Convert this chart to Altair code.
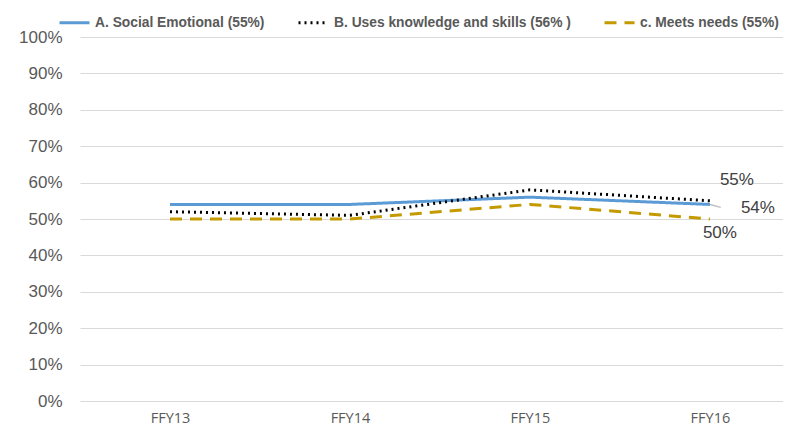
import altair as alt
import pandas as pd

years = ["FFY13", "FFY14", "FFY15", "FFY16"]
series_names = ["A. Social Emotional (55%)", "B. Uses knowledge and skills (56% )", "c. Meets needs (55%)"]
social = [0.54, 0.54, 0.56, 0.54]
knowledge = [0.52, 0.51, 0.58, 0.55]
needs = [0.50, 0.50, 0.54, 0.50]
y_ticks = [0, 0.1, 0.2, 0.3, 0.4, 0.5, 0.6, 0.7, 0.8, 0.9, 1.0]

rows = []
for name, vals in zip(series_names, [social, knowledge, needs]):
    for i, (yr, v) in enumerate(zip(years, vals)):
        rows.append({"idx": i, "year": yr, "series": name, "value": v})
df = pd.DataFrame(rows)

colors = ["#5B9BD5", "#000000", "#C49A00"]
dashes = [[1, 0], [2, 4], [12, 8]]

xscale = alt.Scale(domain=[-0.5, 3.406], nice=False, zero=False)
yscale = alt.Scale(domain=[0, 1], nice=False)

label_expr = "datum.value == 0 ? 'FFY13' : datum.value == 1 ? 'FFY14' : datum.value == 2 ? 'FFY15' : 'FFY16'"

x_axis = alt.Axis(values=[0, 1, 2, 3], labelExpr=label_expr, title=None, grid=False,
                  domain=False, ticks=False, labelFont="Open Sans", labelFontSize=14.5,
                  labelColor="#595959", labelPadding=10, labelOverlap=False)
y_axis = alt.Axis(values=y_ticks, format=".0%", title=None, grid=True, gridColor="#D9D9D9",
                  domain=False, ticks=False, labelFont="Liberation Sans", labelFontSize=17,
                  labelColor="#595959", labelPadding=18, labelOverlap=False)

legend_kw = dict(title=None, orient="none", legendX=-22, legendY=-31,
                 direction="horizontal", symbolType="stroke",
                 symbolStrokeWidth=3, symbolSize=900,
                 labelFont="Liberation Sans", labelFontWeight="bold",
                 labelFontSize=13.8, labelColor="#595959", columnPadding=27,
                 labelLimit=400)

base = alt.Chart(df)
X = alt.X("idx:Q", scale=xscale, axis=x_axis)
Y = alt.Y("value:Q", scale=yscale, axis=y_axis)

lines = base.mark_line(strokeWidth=3).encode(
    x=X, y=Y,
    color=alt.Color("series:N", scale=alt.Scale(domain=series_names, range=colors),
                    legend=alt.Legend(**legend_kw)),
    strokeDash=alt.StrokeDash("series:N", scale=alt.Scale(domain=series_names, range=dashes),
                              legend=alt.Legend(**legend_kw)),
)

last = base.transform_filter(alt.datum.idx == 3)

def label(series_name, dx, dy):
    return last.transform_filter(alt.datum.series == series_name).mark_text(
        font="Liberation Sans", fontSize=17, color="#404040", dx=dx, dy=dy
    ).encode(x=X, y=Y, text=alt.Text("value:Q", format=".0%"))

leader = last.transform_filter(alt.datum.series == series_names[0]).transform_calculate(
    x2v="datum.idx + 0.06", y2v="datum.value - 0.008"
).mark_rule(color="#BFBFBF", strokeWidth=1.5).encode(
    x=X, y=Y, x2=alt.X2("x2v:Q"), y2=alt.Y2("y2v:Q"))

chart = alt.layer(
    lines,
    leader,
    label(series_names[1], 27, -21),
    label(series_names[0], 48, 4),
    label(series_names[2], 10, 14),
).properties(
    width=703, height=364,
    autosize=alt.AutoSizeParams(type="none"),
    padding={"left": 72, "top": 29, "right": 0, "bottom": 25},
).configure_view(stroke=None)

chart.save("out.html", embed_options={"renderer": "svg", "actions": False})
